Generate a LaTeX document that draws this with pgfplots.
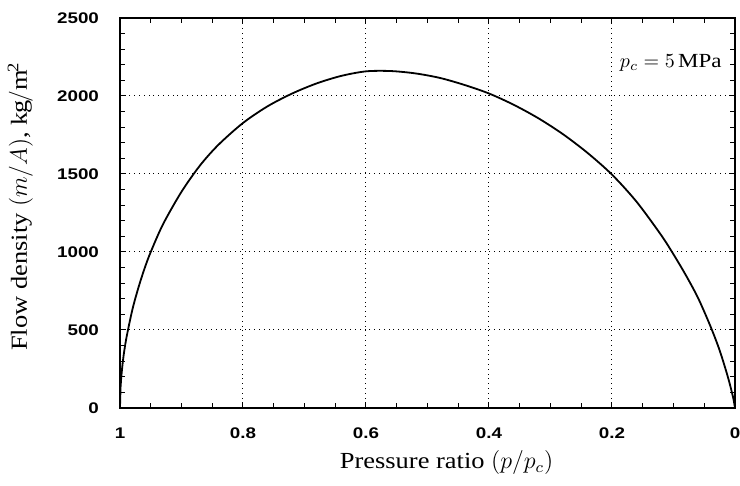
\documentclass[border=0pt]{standalone}
\usepackage{fontspec}
\setmainfont{Liberation Serif}[FakeStretch=1.15]
\newfontfamily\tickfont{Liberation Sans}[FakeStretch=1.22]
\usepackage{pgfplots}
\pgfplotsset{compat=1.18}

\begin{document}
\begin{tikzpicture}
\begin{axis}[
  scale only axis,
  width=307.5pt, height=195pt,
  xmin=0, xmax=1, x dir=reverse,
  ymin=0, ymax=2500,
  xtick={0,0.2,0.4,0.6,0.8,1},
  xticklabels={0,0.2,0.4,0.6,0.8,1},
  ytick={0,500,1000,1500,2000,2500},
  yticklabels={0,500,1000,1500,2000,2500},
  minor x tick num=3,
  minor y tick num=4,
  tick align=inside,
  tick pos=both,
  major tick length=2.5pt,
  minor tick length=2.5pt,
  tick style={black, line width=0.5pt},
  axis line style={line width=0.6pt},
  grid=major,
  major grid style={dotted, black, line width=0.5pt},
  ticklabel style={font=\tickfont\bfseries\fontsize{7.7}{9}\selectfont},
  yticklabel style={xshift=-7pt},
  xticklabel style={yshift=-6.5pt},
  xlabel={Pressure ratio $(p/p_c)$},
  ylabel={Flow density $(m/A)$, $\mathrm{kg/m^2}$},
  label style={font=\fontsize{11.5}{13}\selectfont},
  xlabel style={at={(axis description cs:0.531,-0.1564)}, anchor=base},
  ylabel style={at={(axis description cs:-0.1512,0.515)}, anchor=base},
]
\addplot[black, line width=0.9pt, smooth, tension=0.5] coordinates {
  (1.0, 0)
  (0.999, 137)
  (0.998, 194)
  (0.995, 309)
  (0.99, 440)
  (0.98, 628)
  (0.97, 772)
  (0.96, 895)
  (0.95, 1000)
  (0.93, 1178)
  (0.90, 1386)
  (0.87, 1554)
  (0.84, 1687)
  (0.80, 1827)
  (0.76, 1934)
  (0.72, 2016)
  (0.68, 2081)
  (0.64, 2129)
  (0.60, 2158)
  (0.56, 2160)
  (0.52, 2145)
  (0.48, 2116)
  (0.44, 2071)
  (0.40, 2016)
  (0.36, 1944)
  (0.32, 1858)
  (0.28, 1756)
  (0.24, 1636)
  (0.20, 1496)
  (0.16, 1322)
  (0.12, 1108)
  (0.10, 985)
  (0.08, 852)
  (0.06, 705)
  (0.04, 525)
  (0.025, 370)
  (0.012, 205)
  (0.005, 100)
  (0.002, 48)
  (0.0, 0)
};
\node[anchor=base east, inner sep=0pt, font=\fontsize{10}{12}\selectfont] at (axis cs:0.0211,2180) {$p_c = 5\,$MPa};
\coordinate (bl) at (axis description cs:-0.19512,-0.2);
\coordinate (tr) at (axis description cs:1.00813,1.04615);
\end{axis}
\pgfresetboundingbox
\path[use as bounding box] (bl) rectangle (tr);
\end{tikzpicture}
\end{document}
